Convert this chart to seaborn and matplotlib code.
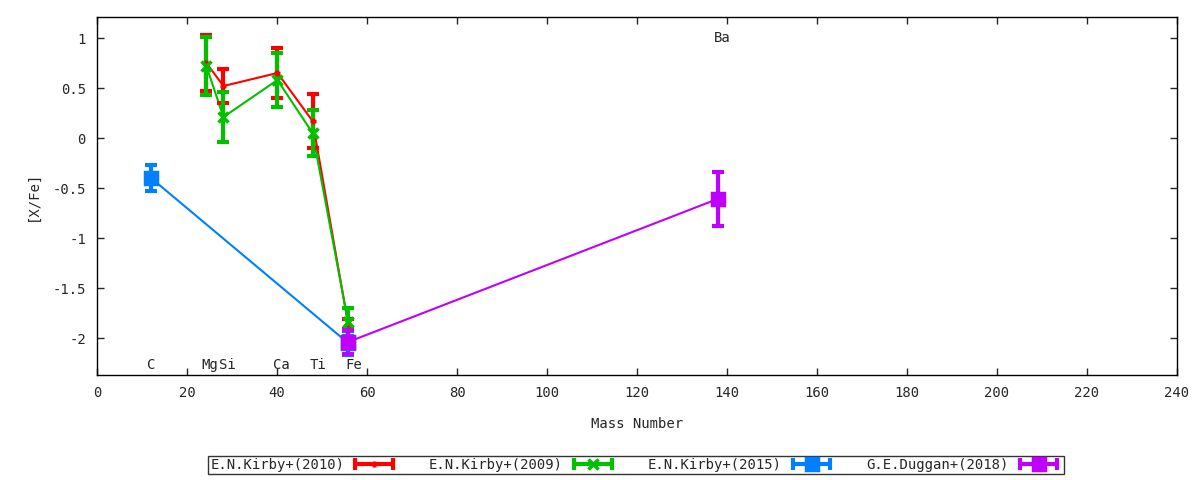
import pandas as pd
import matplotlib
matplotlib.use("Agg")
import matplotlib.pyplot as plt
import seaborn as sns
from matplotlib.lines import Line2D
from matplotlib.legend_handler import HandlerLine2D, HandlerTuple

# Abundance ratios
kirby2010_x = [24.3, 28.1, 40.1, 47.9, 55.8]
kirby2010_y = [0.75, 0.52, 0.65, 0.17, -1.86]
kirby2010_err = [0.28, 0.17, 0.25, 0.27, 0.05]

kirby2009_x = [24.3, 28.1, 40.1, 47.9, 55.8]
kirby2009_y = [0.72, 0.21, 0.58, 0.05, -1.84]
kirby2009_err = [0.29, 0.25, 0.27, 0.23, 0.14]

kirby2015_x = [12.0, 55.8]
kirby2015_y = [-0.40, -2.05]
kirby2015_err = [0.13, 0.12]

duggan2018_x = [55.8, 137.9]
duggan2018_y = [-2.04, -0.61]
duggan2018_err = [0.12, 0.27]

labels = ["E.N.Kirby+(2010)", "E.N.Kirby+(2009)", "E.N.Kirby+(2015)", "G.E.Duggan+(2018)"]
colors = ["#ff0000", "#00c000", "#0080ff", "#c000ff"]
markers = ["+", "x", "s", "s"]
marker_px = [5, 7, 8, 8]

elements = ["C", "Mg", "Si", "Ca", "Ti", "Fe", "Ba"]
element_label_x = [12, 25, 29, 41, 49, 57, 139]
element_label_y = [-2.27, -2.27, -2.27, -2.27, -2.27, -2.27, 1.0]

series = [
    (kirby2010_x, kirby2010_y, kirby2010_err),
    (kirby2009_x, kirby2009_y, kirby2009_err),
    (kirby2015_x, kirby2015_y, kirby2015_err),
    (duggan2018_x, duggan2018_y, duggan2018_err),
]

rows = []
for lab, (xs, ys, es) in zip(labels, series):
    for x, y, e in zip(xs, ys, es):
        rows.append({"mass": x, "xfe": y, "err": e, "source": lab})
df = pd.DataFrame(rows)

sns.set_style("white")
plt.rcParams["font.family"] = ["DejaVu Sans Mono", "DejaVu Sans"]
plt.rcParams["font.size"] = 10

fig = plt.figure(figsize=(12, 4.8), dpi=100)
ax = fig.add_axes([97 / 1200, 1 - 375 / 480, 1080 / 1200, 358 / 480])

pal = dict(zip(labels, colors))
sns.lineplot(data=df, x="mass", y="xfe", hue="source", palette=pal,
             sort=False, estimator=None, linewidth=1.5, legend=False, ax=ax)

for lab, col, mk, ms in zip(labels, colors, markers, marker_px):
    sub = df[df["source"] == lab]
    ax.errorbar(sub["mass"], sub["xfe"], yerr=sub["err"], fmt="none",
                ecolor=col, elinewidth=3, capsize=4, capthick=3)
    ax.plot(sub["mass"], sub["xfe"], linestyle="none", marker=mk, color=col,
            markersize=ms, markeredgewidth=2.5, zorder=3)

for name, m, yy in zip(elements, element_label_x, element_label_y):
    ax.text(m, yy, name, ha="center", va="center", fontsize=10)

ax.set_xlim(0, 240)
ax.set_ylim(-2.37, 1.21)
ax.set_xticks(range(0, 241, 20))
ax.set_yticks([-2, -1.5, -1, -0.5, 0, 0.5, 1])
ax.set_yticklabels(["-2", "-1.5", "-1", "-0.5", "0", "0.5", "1"])
ax.tick_params(direction="in", length=5, width=1, top=True, right=True,
               bottom=True, left=True, labelsize=10, pad=8)
for sp in ax.spines.values():
    sp.set_color("black")
    sp.set_linewidth(1)
ax.set_xlabel("Mass Number", fontsize=10, labelpad=12)
ax.set_ylabel("[X/Fe]", fontsize=10, labelpad=9)

handles = []
hmap = {}
for col, mk, ms in zip(colors, markers, marker_px):
    caps = Line2D([], [], color=col, linewidth=3, marker="|", markersize=9, markeredgewidth=3)
    mid = Line2D([], [], color=col, linewidth=0, marker=mk, markersize=ms,
                 markeredgewidth=2.5)
    hmap[caps] = HandlerLine2D(numpoints=2)
    hmap[mid] = HandlerLine2D(numpoints=1)
    handles.append((caps, mid))
hmap[tuple] = HandlerTuple(ndivide=1, pad=0)

leg = fig.legend(handles, labels, handler_map=hmap,
                 loc="center", bbox_to_anchor=(636 / 1200, 1 - 465 / 480), ncol=4,
                 markerfirst=False, frameon=True, fancybox=False, edgecolor="black",
                 handlelength=3.3, columnspacing=2.3, borderpad=0.15, borderaxespad=0,
                 handletextpad=0.5, fontsize=10)
leg.get_frame().set_linewidth(1)

fig.savefig("out.png", dpi=100)
